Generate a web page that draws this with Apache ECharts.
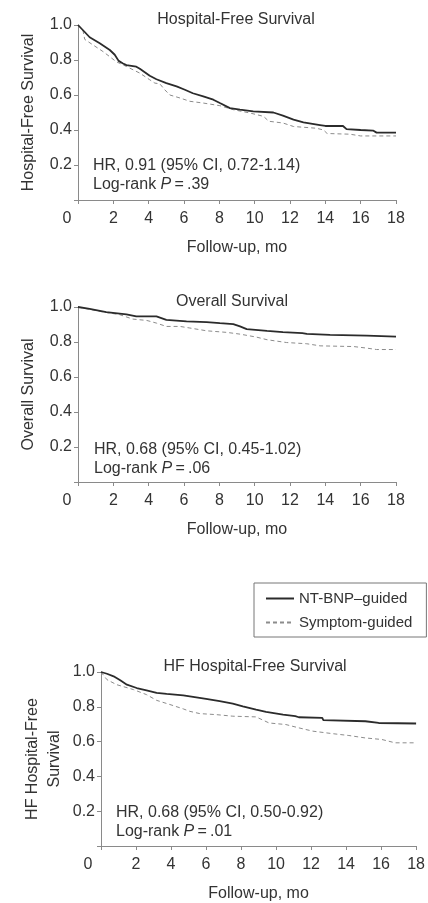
<!DOCTYPE html>
<html><head><meta charset="utf-8">
<script src="https://cdn.jsdelivr.net/npm/echarts@6/dist/echarts.min.js"></script>
<style>html,body{margin:0;padding:0;background:#fff}#c{width:428px;height:903px}</style>
</head><body><div id="c"></div>
<script>
// ---- tick labels ----
const xTicks = [0, 2, 4, 6, 8, 10, 12, 14, 16, 18];
const yTicks = [0, 0.2, 0.4, 0.6, 0.8, 1.0];
const seriesNames = ['NT-BNP\u2013guided', 'Symptom-guided'];
const panelTitles = ['Hospital-Free Survival', 'Overall Survival', 'HF Hospital-Free Survival'];
const yNames = ['Hospital-Free Survival', 'Overall Survival', 'HF Hospital-Free\nSurvival'];
const xName = 'Follow-up, mo';
const hrTexts = ['HR, 0.91 (95% CI, 0.72-1.14)', 'HR, 0.68 (95% CI, 0.45-1.02)', 'HR, 0.68 (95% CI, 0.50-0.92)'];
const pTexts = ['.39', '.06', '.01'];

// ---- Panel 1: Hospital-free survival ----
const hfNtTime = [0, 0.38, 0.66, 1.23, 1.8, 2.08, 2.3, 2.55, 2.74, 3.3, 3.5, 4.06, 4.44, 5.0, 5.58, 6.05, 6.5, 7.09, 7.66, 8.03, 8.6, 9.17, 9.92, 11.06, 11.6, 12.2, 12.76, 13.7, 14.0, 15.0, 15.2, 16.0, 16.7, 16.9, 18.0];
const hfNtSurv = [1.0, 0.96, 0.93, 0.896, 0.857, 0.83, 0.795, 0.78, 0.771, 0.762, 0.75, 0.71, 0.69, 0.668, 0.649, 0.63, 0.61, 0.592, 0.573, 0.554, 0.525, 0.516, 0.507, 0.50, 0.482, 0.459, 0.444, 0.428, 0.423, 0.423, 0.405, 0.40, 0.397, 0.385, 0.385];
const hfSgTime = [0, 0.28, 0.38, 0.85, 1.42, 2.17, 2.74, 3.5, 4.06, 4.35, 4.63, 4.91, 5.2, 5.77, 6.33, 7.09, 8.03, 8.79, 9.74, 10.5, 10.8, 11.6, 12.2, 13.5, 13.9, 14.1, 15.4, 16.0, 18.0];
const hfSgSurv = [1.0, 0.97, 0.918, 0.886, 0.848, 0.79, 0.763, 0.725, 0.687, 0.668, 0.664, 0.63, 0.60, 0.583, 0.564, 0.554, 0.539, 0.516, 0.497, 0.478, 0.45, 0.44, 0.42, 0.41, 0.40, 0.38, 0.376, 0.366, 0.366];

// ---- Panel 2: Overall survival ----
const osNtTime = [0, 0.66, 1.6, 2.74, 3.3, 4.44, 5.0, 6.14, 7.28, 8.03, 8.79, 9.17, 9.55, 10.7, 11.6, 12.7, 12.95, 14.27, 16.35, 18.0];
const osNtSurv = [1.0, 0.989, 0.971, 0.958, 0.946, 0.946, 0.927, 0.918, 0.914, 0.908, 0.902, 0.889, 0.874, 0.864, 0.857, 0.851, 0.847, 0.841, 0.836, 0.831];
const osSgTime = [0, 1.23, 2.36, 3.1, 3.9, 4.44, 5.0, 5.77, 6.33, 7.28, 8.41, 9.17, 10.1, 10.7, 11.8, 12.95, 13.7, 15.6, 16.35, 16.9, 18.0];
const osSgSurv = [1.0, 0.975, 0.956, 0.931, 0.923, 0.908, 0.889, 0.889, 0.88, 0.864, 0.855, 0.845, 0.828, 0.813, 0.797, 0.79, 0.778, 0.774, 0.765, 0.757, 0.757];

// ---- Panel 3: HF hospital-free survival ----
const hhNtTime = [0, 0.34, 0.72, 1.1, 1.48, 2.04, 2.6, 3.18, 3.75, 4.7, 5.26, 6.0, 6.78, 7.53, 8.1, 8.86, 9.43, 10.4, 11.1, 11.3, 12.64, 12.7, 15.1, 15.86, 18.0];
const hhNtSurv = [1.0, 0.99, 0.975, 0.952, 0.927, 0.908, 0.895, 0.88, 0.874, 0.866, 0.857, 0.845, 0.832, 0.818, 0.803, 0.784, 0.771, 0.755, 0.746, 0.74, 0.736, 0.723, 0.717, 0.707, 0.704];
const hhSgTime = [0, 0.34, 0.9, 1.85, 2.6, 3.18, 3.94, 4.7, 5.07, 5.64, 6.59, 7.53, 8.86, 9.6, 10.56, 11.3, 12.1, 13.2, 14.16, 15.1, 16.05, 16.8, 18.0];
const hhSgSurv = [1.0, 0.956, 0.927, 0.899, 0.87, 0.837, 0.813, 0.788, 0.774, 0.761, 0.755, 0.746, 0.742, 0.707, 0.698, 0.679, 0.66, 0.646, 0.635, 0.621, 0.612, 0.593, 0.593];

const zip = (t, s) => t.map((v, i) => [v, s[i]]);
const panels = [
  { nt: zip(hfNtTime, hfNtSurv), sg: zip(hfSgTime, hfSgSurv) },
  { nt: zip(osNtTime, osNtSurv), sg: zip(osSgTime, osSgSurv) },
  { nt: zip(hhNtTime, hhNtSurv), sg: zip(hhSgTime, hhSgSurv) }
];

const FONT = "'Liberation Sans', Arial, Helvetica, sans-serif";
const TXT = '#333';
const AX = '#8a8a8a';

const grids = [
  { left: 78, top: 25, width: 318, height: 175 },
  { left: 78, top: 307, width: 318, height: 175 },
  { left: 101, top: 672, width: 317, height: 175 }
];
const zeroShift = [22, 22, 26];
const yNameGap = [38, 38, 35];

const chart = echarts.init(document.getElementById('c'));
const xAxes = [], yAxes = [], series = [], graphics = [];
grids.forEach((g, i) => {
  xAxes.push({
    gridIndex: i, type: 'value', min: xTicks[0], max: xTicks[xTicks.length - 1], interval: xTicks[1] - xTicks[0],
    name: xName, nameLocation: 'middle', nameGap: 40, nameMoveOverlap: false,
    nameTextStyle: { fontFamily: FONT, fontSize: 16, color: TXT },
    axisLine: { lineStyle: { color: AX, width: 1 } },
    axisTick: { show: true, length: 4, lineStyle: { color: AX } },
    splitLine: { show: false },
    axisLabel: {
      margin: 11, fontFamily: FONT, fontSize: 16, color: TXT,
      formatter: v => v === 0 ? '{z|0}' : String(v),
      rich: { z: { fontFamily: FONT, fontSize: 16, color: TXT, padding: [0, zeroShift[i], 0, 0] } }
    }
  });
  yAxes.push({
    gridIndex: i, type: 'value', min: yTicks[0], max: yTicks[yTicks.length - 1], interval: 0.2,
    name: yNames[i], nameLocation: 'middle', nameGap: yNameGap[i], nameMoveOverlap: false,
    nameTextStyle: { fontFamily: FONT, fontSize: 16, color: TXT, lineHeight: 22 },
    axisLine: { show: true, lineStyle: { color: AX, width: 1 } },
    axisTick: { show: true, length: 4, lineStyle: { color: AX } },
    splitLine: { show: false },
    axisLabel: { margin: 6, fontFamily: FONT, fontSize: 16, color: TXT, formatter: v => v === 0 ? '' : v.toFixed(1) }
  });
  series.push({
    name: seriesNames[0], type: 'line', xAxisIndex: i, yAxisIndex: i, data: panels[i].nt,
    symbol: 'none', lineStyle: { color: '#2b2b2b', width: 1.8 }, itemStyle: { color: '#2b2b2b' }, z: 3, silent: true
  });
  series.push({
    name: seriesNames[1], type: 'line', xAxisIndex: i, yAxisIndex: i, data: panels[i].sg,
    symbol: 'none', lineStyle: { color: '#8c8c8c', width: 1, type: [4, 3] }, itemStyle: { color: '#8c8c8c' }, z: 2, silent: true
  });
});

const titlePos = [[236, 20], [232, 302], [255, 667]];
const hrPos = [[93, 166], [94, 450], [116, 813]];
for (let i = 0; i < 3; i++) {
  graphics.push({ type: 'text', x: titlePos[i][0], y: titlePos[i][1],
    style: { text: panelTitles[i], fontFamily: FONT, fontSize: 16, fill: TXT, align: 'center', verticalAlign: 'middle' } });
  graphics.push({ type: 'text', x: hrPos[i][0], y: hrPos[i][1],
    style: { text: hrTexts[i], fontFamily: FONT, fontSize: 16, fill: TXT, align: 'left', verticalAlign: 'middle' } });
  graphics.push({ type: 'text', x: hrPos[i][0], y: hrPos[i][1] + 19,
    style: { text: 'Log-rank {i|P}\u2009=\u2009' + pTexts[i], fontFamily: FONT, fontSize: 16, fill: TXT, align: 'left', verticalAlign: 'middle',
      rich: { i: { fontFamily: FONT, fontSize: 16, fontStyle: 'italic', fill: TXT } } } });
}

chart.setOption({
  animation: false,
  backgroundColor: '#fff',
  grid: grids,
  xAxis: xAxes,
  yAxis: yAxes,
  series: series,
  legend: {
    data: seriesNames, orient: 'vertical', left: 254, top: 583,
    borderColor: '#777', borderWidth: 1, padding: [8, 14, 7, 11],
    itemWidth: 28, itemHeight: 14, itemGap: 9,
    itemStyle: { opacity: 0, borderWidth: 0 },
    textStyle: { fontFamily: FONT, fontSize: 15, color: TXT },
    selectedMode: false
  },
  graphic: graphics
});
</script>
</body></html>
